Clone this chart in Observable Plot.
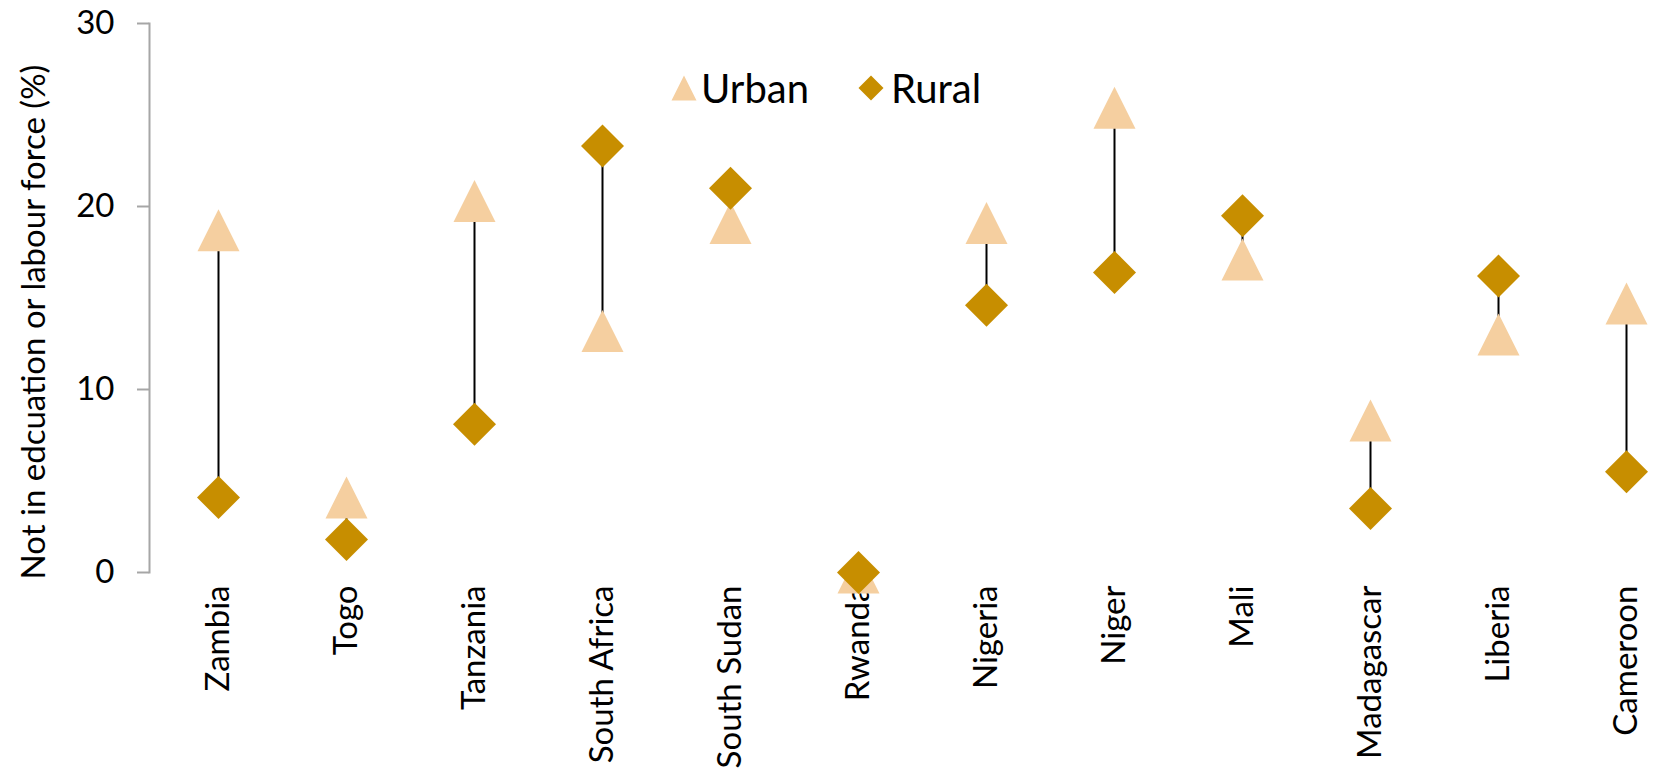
<!DOCTYPE html>
<html><head><meta charset="utf-8">
<script src="https://cdn.jsdelivr.net/npm/d3@7"></script>
<script src="https://cdn.jsdelivr.net/npm/@observablehq/plot@0.6"></script>
<style>
html,body{margin:0;padding:0;background:#fff;}
#wrap{position:relative;width:1662px;height:775px;font-family:Lato,sans-serif;}
#wrap svg{position:absolute;left:0;top:0;}
</style></head><body><div id="wrap"></div>
<script>
const countries = ["Zambia","Togo","Tanzania","South Africa","South Sudan","Rwanda","Nigeria","Niger","Mali","Madagascar","Liberia","Cameroon"];
const urban = [18.7, 4.1, 20.3, 13.2, 19.1, 0.0, 19.1, 25.4, 17.1, 8.3, 13.0, 14.7];
const rural = [4.1, 1.8, 8.1, 23.3, 21.0, 0.0, 14.6, 16.4, 19.5, 3.5, 16.2, 5.5];
const yTicks = [0, 10, 20, 30];
const seriesNames = ["Urban", "Rural"];
const seriesColors = ["#f5cfa0", "#c78e00"];
const yTitle = "Not in edcuation or labour force (%)";

const data = countries.map((c, i) => ({country: c, urban: urban[i], rural: rural[i]}));

const tri = {draw(ctx, size){const r = Math.sqrt(size/Math.PI); ctx.moveTo(0,-r); ctx.lineTo(r,r); ctx.lineTo(-r,r); ctx.closePath();}};
const dia = {draw(ctx, size){const r = Math.sqrt(size/Math.PI); ctx.moveTo(0,-r); ctx.lineTo(r,0); ctx.lineTo(0,r); ctx.lineTo(-r,0); ctx.closePath();}};

const FS = 33;
const chart = Plot.plot({
  width: 1662, height: 775,
  marginLeft: 149, marginRight: 0, marginTop: 23, marginBottom: 203,
  style: {fontFamily: "Lato, sans-serif", fontSize: FS + "px", background: "transparent", color: "#000", overflow: "visible"},
  x: {type: "point", domain: countries, range: [215, 1629], padding: 0, label: null},
  y: {domain: [0, 30], label: null},
  marks: [
    Plot.frame({anchor: "left", stroke: "#a6a6a6", strokeWidth: 2}),
    Plot.axisY({ticks: yTicks, tickSize: 12, tickPadding: 23, stroke: "#a6a6a6", strokeWidth: 2, fill: "#000", fontSize: FS, label: null}),
    Plot.axisX({tickSize: 0, tickRotate: -90, tickPadding: 13, fill: "#000", fontSize: FS, label: null}),
    Plot.text([yTitle], {frameAnchor: "left", textAnchor: "middle", rotate: -90, dx: -115, dy: 24, fontSize: FS, fill: "#000"}),
    Plot.ruleX(data, {x: "country", y1: "urban", y2: "rural", stroke: "#000", strokeWidth: 2}),
    Plot.dot(data, {x: "country", y: "urban", symbol: tri, r: 21, fill: seriesColors[0], stroke: "none"}),
    Plot.dot(data, {x: "country", y: "rural", symbol: dia, r: 21.5, fill: seriesColors[1], stroke: "none"})
  ]
});
const wrap = document.getElementById("wrap");
wrap.appendChild(chart);

// legend overlay
const leg = d3.select(wrap).append("svg").attr("width", 1662).attr("height", 775)
  .style("pointer-events", "none").style("font-family", "Lato, sans-serif");
const legItems = [
  {name: seriesNames[0], color: seriesColors[0], sym: tri, cx: 684, r: 12.5, tx: 701},
  {name: seriesNames[1], color: seriesColors[1], sym: dia, cx: 871, r: 12.5, tx: 891}
];
legItems.forEach(it => {
  leg.append("path").attr("d", d3.symbol(it.sym, it.r*it.r*Math.PI)()).attr("transform", `translate(${it.cx},88)`).attr("fill", it.color);
  leg.append("text").attr("x", it.tx).attr("y", 102.5).attr("font-size", 40).attr("fill", "#000").text(it.name);
});
</script></body></html>
